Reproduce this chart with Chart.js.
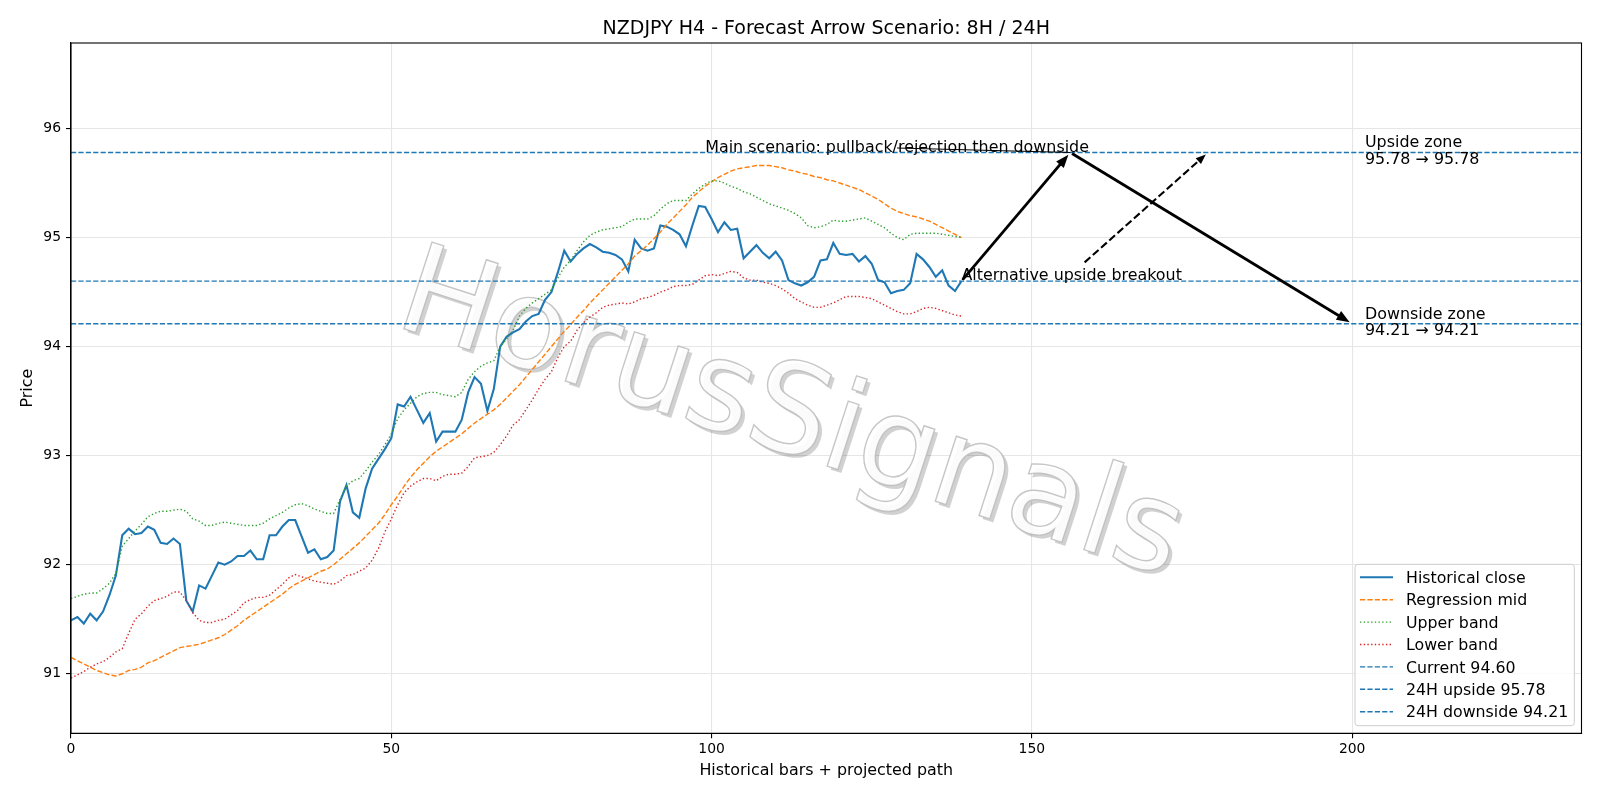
<!DOCTYPE html>
<html>
<head>
<meta charset="utf-8">
<title>NZDJPY H4 - Forecast Arrow Scenario</title>
<script src="https://cdn.jsdelivr.net/npm/chart.js@4.4.1/dist/chart.umd.min.js"></script>
<style>
  html, body { margin: 0; padding: 0; background: #fff; }
  #wrap { width: 1600px; height: 800px; }
</style>
</head>
<body>
<div id="wrap"><canvas id="chart" width="1600" height="800"></canvas></div>
<script>
// Historical closes, bar 0 .. 139
const closeValues = [
  91.49, 91.52, 91.46, 91.55, 91.49, 91.57, 91.72, 91.90, 92.27, 92.33,
  92.28, 92.29, 92.35, 92.32, 92.20, 92.19, 92.24, 92.19, 91.67, 91.57,
  91.81, 91.78, 91.90, 92.02, 92.00, 92.03, 92.08, 92.08, 92.13, 92.05,
  92.05, 92.27, 92.27, 92.35, 92.41, 92.41, 92.26, 92.11, 92.14, 92.05,
  92.07, 92.13, 92.58, 92.73, 92.48, 92.43, 92.70, 92.88, 92.97, 93.06,
  93.16, 93.47, 93.45, 93.54, 93.42, 93.30, 93.39, 93.13, 93.22, 93.22,
  93.22, 93.33, 93.58, 93.72, 93.66, 93.41, 93.61, 94.00, 94.09, 94.13,
  94.16, 94.23, 94.28, 94.30, 94.43, 94.50, 94.68, 94.88, 94.78, 94.85,
  94.90, 94.94, 94.91, 94.87, 94.86, 94.84, 94.80, 94.69, 94.98, 94.90,
  94.88, 94.90, 95.11, 95.10, 95.07, 95.03, 94.92, 95.11, 95.29, 95.28,
  95.17, 95.05, 95.14, 95.07, 95.08, 94.81, 94.87, 94.93, 94.86, 94.81,
  94.87, 94.79, 94.61, 94.58, 94.56, 94.59, 94.64, 94.79, 94.80, 94.95,
  94.85, 94.84, 94.85, 94.78, 94.83, 94.76, 94.61, 94.59, 94.49, 94.51,
  94.52, 94.58, 94.85, 94.80, 94.73, 94.64, 94.70, 94.56, 94.51, 94.60
];

const midValues = [
  91.15, 91.12, 91.09, 91.06, 91.03, 91.01, 90.99, 90.98, 91.00, 91.03,
  91.04, 91.06, 91.10, 91.12, 91.15, 91.18, 91.21, 91.24, 91.25, 91.26,
  91.27, 91.29, 91.31, 91.33, 91.36, 91.40, 91.44, 91.49, 91.53, 91.57,
  91.61, 91.65, 91.69, 91.73, 91.78, 91.82, 91.85, 91.88, 91.91, 91.94,
  91.96, 92.00, 92.05, 92.10, 92.15, 92.20, 92.26, 92.32, 92.38, 92.46,
  92.55, 92.63, 92.72, 92.80, 92.87, 92.93, 92.99, 93.04, 93.08, 93.12,
  93.16, 93.20, 93.25, 93.30, 93.34, 93.38, 93.42, 93.47, 93.53, 93.59,
  93.65, 93.72, 93.79, 93.86, 93.93, 94.00, 94.07, 94.14, 94.20, 94.27,
  94.33, 94.40, 94.46, 94.52, 94.58, 94.64, 94.70, 94.76, 94.83, 94.88,
  94.93, 94.99, 95.05, 95.12, 95.18, 95.24, 95.30, 95.37, 95.42, 95.47,
  95.51, 95.55, 95.58, 95.61, 95.63, 95.64, 95.65, 95.66, 95.66, 95.66,
  95.65, 95.64, 95.62, 95.61, 95.59, 95.58, 95.56, 95.55, 95.53, 95.52,
  95.50, 95.48, 95.46, 95.44, 95.41, 95.38, 95.35, 95.31, 95.27, 95.24,
  95.22, 95.20, 95.19, 95.17, 95.15, 95.12, 95.09, 95.06, 95.03, 95.00
];

const upperValues = [
  91.69, 91.71, 91.73, 91.74, 91.74, 91.78, 91.83, 91.92, 92.17, 92.24,
  92.31, 92.37, 92.44, 92.47, 92.49, 92.49, 92.50, 92.51, 92.49, 92.42,
  92.40, 92.36, 92.36, 92.38, 92.39, 92.38, 92.37, 92.36, 92.36, 92.36,
  92.38, 92.42, 92.45, 92.48, 92.52, 92.55, 92.56, 92.54, 92.51, 92.49,
  92.47, 92.47, 92.60, 92.72, 92.77, 92.79, 92.86, 92.94, 93.01, 93.10,
  93.20, 93.34, 93.42, 93.48, 93.54, 93.57, 93.58, 93.58, 93.56, 93.55,
  93.54, 93.58, 93.70, 93.77, 93.82, 93.85, 93.87, 94.00, 94.07, 94.15,
  94.28, 94.35, 94.40, 94.44, 94.48, 94.52, 94.63, 94.73, 94.79, 94.88,
  94.96, 95.02, 95.05, 95.07, 95.08, 95.09, 95.10, 95.14, 95.17, 95.17,
  95.17, 95.20, 95.26, 95.31, 95.34, 95.34, 95.34, 95.40, 95.45, 95.49,
  95.52, 95.52, 95.50, 95.47, 95.45, 95.42, 95.40, 95.37, 95.34, 95.31,
  95.29, 95.27, 95.25, 95.22, 95.18, 95.11, 95.09, 95.10, 95.12, 95.16,
  95.15, 95.15, 95.16, 95.17, 95.18, 95.15, 95.12, 95.09, 95.04, 95.00,
  94.98, 95.03, 95.04, 95.04, 95.04, 95.04, 95.03, 95.02, 95.01, 95.00
];

const lowerValues = [
  90.96, 90.99, 91.02, 91.06, 91.09, 91.11, 91.15, 91.20, 91.23, 91.37,
  91.50, 91.55, 91.62, 91.67, 91.69, 91.71, 91.75, 91.75, 91.67, 91.56,
  91.49, 91.47, 91.47, 91.49, 91.50, 91.54, 91.58, 91.65, 91.68, 91.70,
  91.70, 91.72, 91.77, 91.82, 91.88, 91.91, 91.89, 91.87, 91.85, 91.84,
  91.83, 91.82, 91.85, 91.90, 91.91, 91.94, 91.97, 92.04, 92.15, 92.30,
  92.42, 92.55, 92.66, 92.72, 92.76, 92.79, 92.79, 92.77, 92.81, 92.83,
  92.83, 92.84, 92.90, 92.98, 92.99, 93.00, 93.03, 93.10, 93.18, 93.28,
  93.33, 93.42, 93.51, 93.61, 93.70, 93.77, 93.90, 94.00, 94.05, 94.15,
  94.22, 94.27, 94.31, 94.36, 94.38, 94.39, 94.40, 94.39, 94.41, 94.44,
  94.45, 94.47, 94.50, 94.52, 94.55, 94.56, 94.56, 94.57, 94.61, 94.65,
  94.66, 94.65, 94.67, 94.69, 94.68, 94.63, 94.61, 94.61, 94.59, 94.58,
  94.56, 94.53, 94.49, 94.44, 94.41, 94.38, 94.36, 94.36, 94.38, 94.40,
  94.43, 94.46, 94.46, 94.46, 94.45, 94.44, 94.41, 94.38, 94.35, 94.32,
  94.30, 94.30, 94.32, 94.35, 94.36, 94.35, 94.33, 94.31, 94.29, 94.28
];

// Levels
const currentLevel = 94.60;
const upsideLevel = 95.78;
const downsideLevel = 94.21;

// Axes
const xTicks = [0, 50, 100, 150, 200];
const yTicks = [91, 92, 93, 94, 95, 96];
const xRange = [0, 235.8];
const yRange = [90.454, 96.784];

// Projected paths, [bar, price]
const mainPath = [[139, 94.60], [156, 95.78], [200, 94.21]];
const altPath = [[158, 94.76], [177.5, 95.78]];

const FONT = "'DejaVu Sans', 'Liberation Sans', sans-serif";
const C0 = '#1f77b4';

function series(values) {
    return values.map((v, i) => ({ x: i, y: v }));
}

function hline(level) {
    return [{ x: xRange[0], y: level }, { x: xRange[1], y: level }];
}

const dashed = [5.2, 2.2];
const dotted = [1.4, 2.3];

const datasets = [
    { label: 'Historical close', data: series(closeValues), borderColor: C0, borderWidth: 2.1, order: 7 },
    { label: 'Regression mid', data: series(midValues), borderColor: '#ff7f0e', borderWidth: 1.4, borderDash: dashed, order: 6 },
    { label: 'Upper band', data: series(upperValues), borderColor: '#2ca02c', borderWidth: 1.4, borderDash: dotted, order: 5 },
    { label: 'Lower band', data: series(lowerValues), borderColor: '#d62728', borderWidth: 1.4, borderDash: dotted, order: 4 },
    { label: 'Current ' + currentLevel.toFixed(2), data: hline(currentLevel), borderColor: C0, borderWidth: 1.4, borderDash: dashed, order: 3 },
    { label: '24H upside ' + upsideLevel.toFixed(2), data: hline(upsideLevel), borderColor: C0, borderWidth: 1.4, borderDash: dashed, order: 2 },
    { label: '24H downside ' + downsideLevel.toFixed(2), data: hline(downsideLevel), borderColor: C0, borderWidth: 1.4, borderDash: dashed, order: 1 }
];

// Helper: arrow with filled head, shrunk at both ends in pixels
function drawArrow(ctx, p0, p1, width, dash, headLen, headHalf) {
    const dx = p1[0] - p0[0], dy = p1[1] - p0[1];
    const len = Math.hypot(dx, dy);
    const ux = dx / len, uy = dy / len;
    const sx = p0[0] + ux * 2, sy = p0[1] + uy * 2;
    const tx = p1[0] - ux * 3, ty = p1[1] - uy * 3;
    const bx = tx - ux * headLen, by = ty - uy * headLen;
    ctx.save();
    ctx.strokeStyle = '#000';
    ctx.fillStyle = '#000';
    ctx.lineWidth = width;
    ctx.setLineDash(dash);
    ctx.beginPath();
    ctx.moveTo(sx, sy);
    ctx.lineTo(bx + ux * 2, by + uy * 2);
    ctx.stroke();
    ctx.setLineDash([]);
    ctx.beginPath();
    ctx.moveTo(tx, ty);
    ctx.lineTo(bx - uy * headHalf, by + ux * headHalf);
    ctx.lineTo(bx + uy * headHalf, by - ux * headHalf);
    ctx.closePath();
    ctx.fill();
    ctx.restore();
}

const overlay = {
    id: 'overlay',
    beforeDatasetsDraw(chart) {
        // watermark
        const ctx = chart.ctx;
        ctx.save();
        ctx.translate(790, 420);
        ctx.rotate(18 * Math.PI / 180);
        ctx.font = '125px ' + FONT;
        ctx.textAlign = 'center';
        ctx.textBaseline = 'middle';
        ctx.shadowColor = 'rgba(0,0,0,0.2)';
        ctx.shadowOffsetX = 3.5;
        ctx.shadowOffsetY = 3.5;
        ctx.fillStyle = 'rgba(255,255,255,0.9)';
        ctx.fillText('HorusSignals', 0, 0);
        ctx.shadowColor = 'rgba(0,0,0,0)';
        ctx.strokeStyle = 'rgba(185,185,185,0.8)';
        ctx.lineWidth = 1.4;
        ctx.strokeText('HorusSignals', 0, 0);
        ctx.restore();
    },
    afterDatasetsDraw(chart) {
        const ctx = chart.ctx;
        const xs = chart.scales.x, ys = chart.scales.y;
        const px = p => [xs.getPixelForValue(p[0]), ys.getPixelForValue(p[1])];

        ctx.save();
        ctx.font = '15.9px ' + FONT;
        ctx.fillStyle = '#000';
        ctx.textAlign = 'left';
        ctx.textBaseline = 'alphabetic';

        // main scenario label + thin connector
        const mainText = 'Main scenario: pullback/rejection then downside';
        const mt = px([99, upsideLevel]);
        ctx.fillText(mainText, mt[0], mt[1] - 0.5);
        const mw = ctx.measureText(mainText).width;
        const tip = px(mainPath[1]);
        ctx.strokeStyle = '#000';
        ctx.lineWidth = 1.1;
        ctx.beginPath();
        ctx.moveTo(mt[0] + mw / 2, mt[1] - 4.5);
        ctx.lineTo(tip[0], tip[1]);
        ctx.stroke();

        const at = px([139, currentLevel]);
        ctx.fillText('Alternative upside breakout', at[0], at[1] - 1);

        const up = px([202, upsideLevel]);
        ctx.fillText('Upside zone', up[0], up[1] - 5);
        ctx.fillText(upsideLevel.toFixed(2) + ' \u2192 ' + upsideLevel.toFixed(2), up[0], up[1] + 11.7);
        const dn = px([202, downsideLevel]);
        ctx.fillText('Downside zone', dn[0], dn[1] - 5);
        ctx.fillText(downsideLevel.toFixed(2) + ' \u2192 ' + downsideLevel.toFixed(2), dn[0], dn[1] + 11.7);
        ctx.restore();

        // arrows
        drawArrow(ctx, px(mainPath[0]), px(mainPath[1]), 2.8, [], 13, 5);
        drawArrow(ctx, px(mainPath[1]), px(mainPath[2]), 2.8, [], 13, 5);
        drawArrow(ctx, px(altPath[0]), px(altPath[1]), 2.1, [7.7, 3.3], 10, 4);
    },
    afterDraw(chart) {
        const ctx = chart.ctx;
        const a = chart.chartArea;
        ctx.save();
        // frame
        ctx.strokeStyle = '#000';
        ctx.lineWidth = 1.1;
        ctx.strokeRect(a.left, a.top, a.right - a.left, a.bottom - a.top);

        // title and axis labels
        ctx.fillStyle = '#000';
        ctx.textAlign = 'center';
        ctx.textBaseline = 'alphabetic';
        ctx.font = '19px ' + FONT;
        const cx = (a.left + a.right) / 2;
        ctx.fillText('NZDJPY H4 - Forecast Arrow Scenario: 8H / 24H', cx, 33.5);
        ctx.font = '15.9px ' + FONT;
        ctx.fillText('Historical bars + projected path', cx, 775);
        ctx.save();
        ctx.translate(32.3, (a.top + a.bottom) / 2);
        ctx.rotate(-Math.PI / 2);
        ctx.fillText('Price', 0, 0);
        ctx.restore();

        // legend, lower right
        const box = { l: 1355, t: 564.3, r: 1574.3, b: 725.7 };
        ctx.beginPath();
        ctx.roundRect(box.l, box.t, box.r - box.l, box.b - box.t, 3);
        ctx.fillStyle = 'rgba(255,255,255,0.8)';
        ctx.fill();
        ctx.strokeStyle = '#cccccc';
        ctx.lineWidth = 1;
        ctx.stroke();
        ctx.textAlign = 'left';
        ctx.font = '15.8px ' + FONT;
        chart.data.datasets.forEach((ds, k) => {
            const y = 577.3 + k * 22.4;
            ctx.strokeStyle = ds.borderColor;
            ctx.lineWidth = ds.borderWidth;
            ctx.setLineDash(ds.borderDash || []);
            ctx.beginPath();
            ctx.moveTo(1360, y);
            ctx.lineTo(1393, y);
            ctx.stroke();
            ctx.setLineDash([]);
            ctx.fillStyle = '#000';
            ctx.fillText(ds.label, 1406, y + 5.6);
        });
        ctx.restore();
    }
};

const axisCommon = {
    type: 'linear',
    grid: { color: '#e6e6e6', lineWidth: 1.1, drawTicks: true, tickLength: 5, tickColor: '#000', tickWidth: 1.1 },
    border: { color: '#000', width: 1.1 },
    ticks: { color: '#000', font: { family: FONT, size: 13.9 }, maxRotation: 0 }
};

new Chart(document.getElementById('chart').getContext('2d'), {
    type: 'line',
    data: { datasets: datasets },
    options: {
        responsive: false,
        animation: false,
        devicePixelRatio: 1,
        layout: { padding: { top: 43, right: 18.5, left: 0, bottom: 0 } },
        elements: { point: { radius: 0 }, line: { tension: 0, fill: false } },
        plugins: { legend: { display: false }, title: { display: false }, tooltip: { enabled: false } },
        scales: {
            x: {
                ...axisCommon,
                min: xRange[0],
                max: xRange[1],
                ticks: { ...axisCommon.ticks, padding: 3 },
                afterBuildTicks: s => { s.ticks = xTicks.map(v => ({ value: v })); },
                afterFit: s => { s.height = 800 - 733.3; }
            },
            y: {
                ...axisCommon,
                min: yRange[0],
                max: yRange[1],
                ticks: { ...axisCommon.ticks, padding: 5 },
                afterBuildTicks: s => { s.ticks = yTicks.map(v => ({ value: v })); },
                afterFit: s => { s.width = 71; }
            }
        }
    },
    plugins: [overlay]
});
</script>
</body>
</html>
